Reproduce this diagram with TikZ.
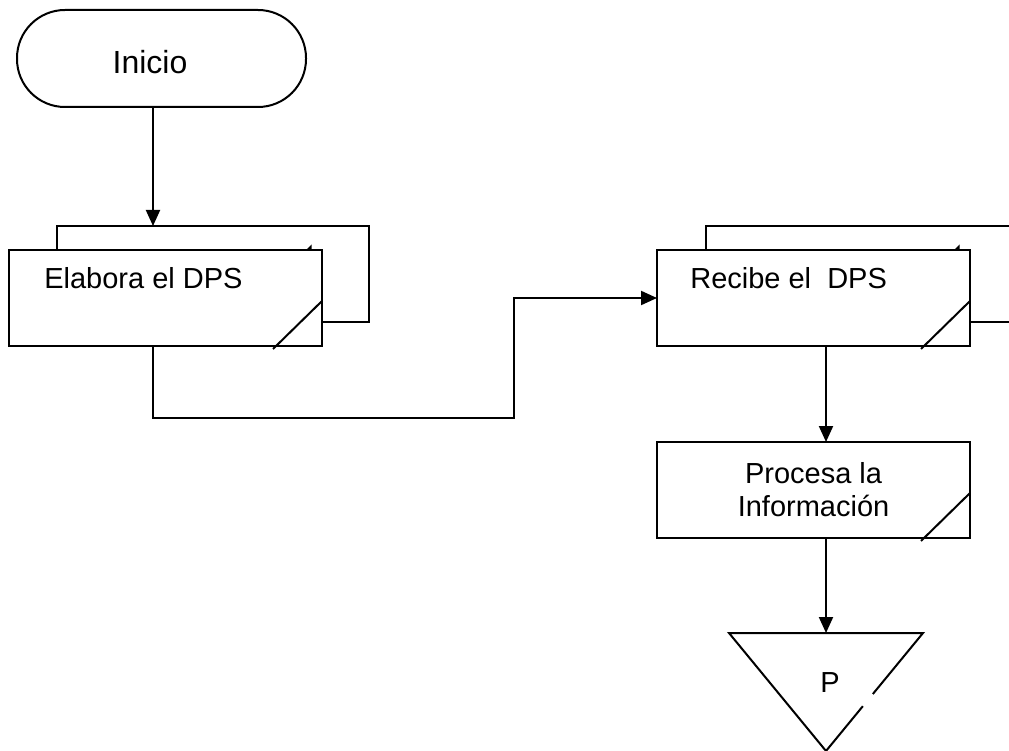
\documentclass[tikz,border=0pt]{standalone}
\usepackage{fontspec}
\setmainfont{Liberation Sans}
\usetikzlibrary{arrows.meta,calc}
\tikzset{
  box/.style={draw, fill=white, rectangle, minimum width=313pt, minimum height=96pt, inner sep=0pt, outer sep=0pt},
  backbox/.style={draw, rectangle, minimum width=312pt, minimum height=96pt, inner sep=0pt, outer sep=0pt},
  term/.style={draw, rectangle, rounded corners=48pt, minimum width=289pt, minimum height=97pt, inner sep=0pt, outer sep=0pt},
  lbl/.style={font=\fontsize{29}{33}\selectfont},
  biglbl/.style={font=\fontsize{32}{36}\selectfont},
  arr/.style={-{Triangle[length=16pt,width=14pt]}},
  mark/.style={fill=black, draw=none},
}
\begin{document}
\begin{tikzpicture}[x=1pt, y=-1pt, line width=2pt, line join=miter]
\path[use as bounding box, clip] (0,0) rectangle (1009,751);
\fill[white] (0,0) rectangle (1009,751);

\coordinate (c1) at (153,0);
\coordinate (c2) at (826,0);
\coordinate (c3) at (514,418);

% terminal
\node[term] (inicio) at (161.5,58.5) {};
\node[biglbl, anchor=base] (inicioT) at (150,74) {Inicio};

% back boxes
\node[backbox] (elabB) at (213,274) {};
\node[backbox] (recB) at (862,274) {};

% connectors
\draw[arr] (inicio.south -| c1) -- (elabB.north -| c1);

% front boxes
\node[box] (elab) at (165.5,298) {};
\node[lbl, anchor=base west] (elabT) at (40,288) {Elabora el DPS};
\node[box] (rec) at (813.5,298) {};
\node[lbl, anchor=base west] (recT) at (686,288) {Recibe el\ \ DPS};
\node[box, lbl, align=center] (proc) at (813.5,490) {Procesa la\\Información};

% corner marks
\foreach \b in {elab, rec, proc} {
  \draw ($(\b.south east)+(-49,3)$) -- ($(\b.south east)+(0,-45)$);
}
\foreach \b in {elab, rec} {
  \fill ($(\b.north east)+(-16,0)$) -- ($(\b.north east)+(-10.5,-5.5)$) -- ($(\b.north east)+(-10.5,0)$) -- cycle;
}

\draw[arr] (elab.south -| c1) |- (c3) |- (rec.west);
\draw[arr] (rec.south -| c2) -- (proc.north -| c2);

% triangle
\coordinate (t1) at (729,633);
\coordinate (t2) at (923,633);
\coordinate (t3) at (826,751);
\draw[arr] (proc.south -| c2) -- (t1 -| c2);
\draw ($(t2)!0.62!(t3)$) -- (t3) -- (t1) -- (t2) -- ($(t2)!0.517!(t3)$);
\node[lbl, anchor=base] (pT) at (830,692) {P};
\end{tikzpicture}
\end{document}
